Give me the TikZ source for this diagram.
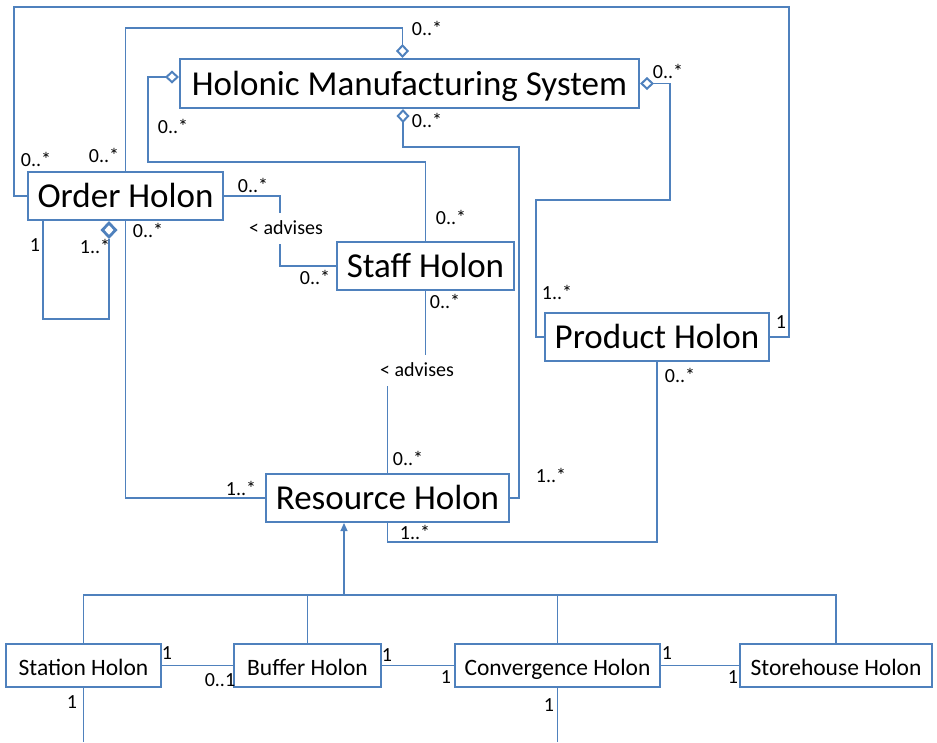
\documentclass[tikz,border=0pt]{standalone}
\usepackage{fontspec}
\setmainfont{Carlito}
\usetikzlibrary{arrows.meta}
\definecolor{umlblue}{RGB}{79,129,189}
\tikzset{
  holon/.style={draw=umlblue,line width=2pt,fill=white,inner sep=0pt,text height=23pt,text depth=0pt,font=\fontsize{35}{40}\selectfont},
  subholon/.style={holon,font=\fontsize{23.5}{28}\selectfont,text height=19pt,minimum height=43pt},
  conn/.style={draw=umlblue,line width=1.1pt},
  agg/.style={conn,-{Diamond[open,length=14pt,width=13pt,line width=2pt]}},
  aggbig/.style={conn,-{Diamond[open,length=18pt,width=17pt,line width=2.8pt]}},
  gen/.style={conn,-{Triangle[length=8pt,width=7pt]}},
  mult/.style={inner sep=0pt,font=\fontsize{20}{24}\selectfont},
  assoc/.style={mult,fill=white,minimum height=31pt,inner xsep=2pt}
}
\begin{document}
\begin{tikzpicture}[x=1pt,y=-1pt]
\useasboundingbox (0,0) rectangle (937,742);
\node[holon,minimum width=459pt,minimum height=49pt] (hms) at (409.5,83.5) {Holonic Manufacturing System};
\node[holon,minimum width=195pt,minimum height=48pt] (order) at (125.5,196) {Order Holon};
\node[holon,minimum width=177pt,minimum height=48pt] (staff) at (425.5,266) {Staff Holon};
\node[holon,minimum width=224pt,minimum height=48pt] (product) at (657,337) {Product Holon};
\node[holon,minimum width=243pt,minimum height=48pt] (resource) at (387.5,498) {Resource Holon};
\node[subholon,minimum width=155pt] (station) at (83.5,665.5) {Station Holon};
\node[subholon,minimum width=147pt] (buffer) at (307.5,665.5) {Buffer Holon};
\node[subholon,minimum width=205pt] (conv) at (557.5,665.5) {Convergence Holon};
\node[subholon,minimum width=192pt] (store) at (836,665.5) {Storehouse Holon};

\draw[conn] (order.west) -| (14,7) -| (789,337) -- (product.east);
\draw[agg] (order.north) |- (402.5,28) -- ([xshift=-7pt]hms.north);
\draw[agg] (staff.north) |- (148,162) |- ([yshift=6.5pt]hms.west);
\draw[agg] (resource.east) -| (519,147) -| ([xshift=-6.5pt]hms.south);
\draw[agg] (product.west) -| (536,200) -| (670,83.5) -- (hms.east);
\draw[conn] (order.east) -| (280,228) |- (staff.west);
\node[assoc] (adv1) at (286,228) {< advises};
\draw[aggbig] ([xshift=-82.5pt]order.south) |- (109,319) -- ([xshift=-16.5pt]order.south);
\draw[conn] (order.south) |- (resource.west);
\draw[conn] (staff.south) -- (425.5,370) -| (resource.north);
\node[assoc] (adv2) at (417,370) {< advises};
\draw[conn] (resource.south) -- ++(0,19) -| (product.south);

\coordinate (bus) at (344,595);
\draw[gen] (bus) -- ([xshift=-43.5pt]resource.south);
\draw[conn] (station.north) |- (store.north |- bus) -- (store.north);
\foreach \n in {buffer,conv} \draw[conn] (\n.north) -- (\n.north |- bus);
\draw[conn] (station.east) -- (buffer.west);
\draw[conn] (buffer.east) -- (conv.west);
\draw[conn] (conv.east) -- (store.west);
\coordinate (stationout) at (83.5,742);
\coordinate (convout) at (557.5,742);
\draw[conn] (station.south) -- (stationout);
\draw[conn] (conv.south) -- (convout);

\node[mult] (m1) at (36,159) {0..*};
\node[mult] (m2) at (104,155) {0..*};
\node[mult] (m3) at (427,28) {0..*};
\node[mult] (m4) at (173,126) {0..*};
\node[mult] (m5) at (427,120) {0..*};
\node[mult] (m6) at (668,71) {0..*};
\node[mult] (m7) at (253,185) {0..*};
\node[mult] (m8) at (148,230) {0..*};
\node[mult] (m9) at (315,277) {0..*};
\node[mult] (m10) at (451,217) {0..*};
\node[mult] (m11) at (445,301) {0..*};
\node[mult] (m12) at (35,245) {1};
\node[mult] (m13) at (95,246) {1..*};
\node[mult] (m14) at (557,292) {1..*};
\node[mult] (m15) at (781,322) {1};
\node[mult] (m16) at (241,488) {1..*};
\node[mult] (m17) at (408,458) {0..*};
\node[mult] (m18) at (415,532) {1..*};
\node[mult] (m19) at (680,375) {0..*};
\node[mult] (m20) at (551,475) {1..*};
\node[mult] (m21) at (167,653) {1};
\node[mult] (m22) at (220,680) {0..1};
\node[mult] (m23) at (72,702) {1};
\node[mult] (m24) at (387,655) {1};
\node[mult] (m25) at (446,677) {1};
\node[mult] (m26) at (667,653) {1};
\node[mult] (m27) at (733,677) {1};
\node[mult] (m28) at (549,705) {1};
\end{tikzpicture}
\end{document}
